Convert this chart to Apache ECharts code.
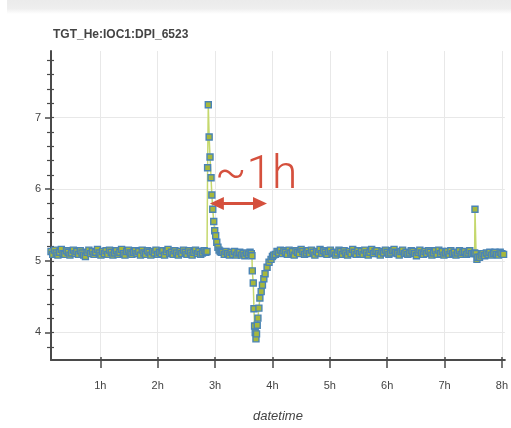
<!DOCTYPE html>
<html><head><meta charset="utf-8">
<script src="https://cdn.jsdelivr.net/npm/echarts@6/dist/echarts.min.js"></script>
<style>html,body{margin:0;padding:0;background:#fff}#c{width:511px;height:428px}</style>
</head><body><div id="c"></div>
<script>
const chartTitle = 'TGT_He:IOC1:DPI_6523';
const xAxisName = 'datetime';
const xTickHours = [1, 2, 3, 4, 5, 6, 7, 8];
const yMajorTicks = [4, 5, 6, 7];
const yMinorTicks = [3.8, 4.2, 4.4, 4.6, 4.8, 5.2, 5.4, 5.6, 5.8, 6.2, 6.4, 6.6, 6.8, 7.2, 7.4, 7.6, 7.8];
const annotationText = '~1h';

// regularly sampled stretches: start hour + values (one sample every sampleStepHours)
const sampleStepHours = 0.03;
const baseline1Start = 0.14;
const baseline1 = [
  5.13,5.09,5.15,5.11,5.08,5.12,5.16,5.10,5.09,5.14,
  5.12,5.08,5.11,5.15,5.10,5.13,5.09,5.14,5.11,5.08,
  5.06,5.12,5.15,5.10,5.13,5.09,5.12,5.16,5.11,5.08,
  5.13,5.10,5.14,5.09,5.15,5.12,5.08,5.11,5.14,5.09,
  5.12,5.16,5.10,5.08,5.13,5.15,5.11,5.09,5.12,5.14,
  5.10,5.13,5.08,5.15,5.11,5.09,5.14,5.12,5.08,5.13,
  5.11,5.15,5.09,5.12,5.10,5.14,5.08,5.13,5.16,5.10,
  5.12,5.09,5.14,5.11,5.08,5.13,5.10,5.15,5.12,5.09,
  5.14,5.11,5.08,5.12,5.15,5.10,5.13,5.09,5.11,5.14,
  5.12
];
const spikeTimes  = [2.860, 2.870, 2.882, 2.897, 2.912, 2.930, 2.944, 2.960, 2.977, 2.994, 3.011, 3.030, 3.050, 3.070, 3.090, 3.110];
const spikeValues = [5.13, 6.30, 7.18, 6.73, 6.45, 6.16, 5.92, 5.72, 5.55, 5.42, 5.35, 5.26, 5.19, 5.15, 5.13, 5.12];
const baseline2Start = 3.13;
const baseline2 = [5.12,5.09,5.13,5.10,5.08,5.12,5.09,5.13,5.08,5.11,5.12,5.08,5.10,5.07,5.11,5.09,5.12];
const dipTimes  = [3.632, 3.643, 3.649, 3.666, 3.678, 3.689, 3.700, 3.713, 3.723, 3.735, 3.747, 3.764, 3.781, 3.804, 3.826, 3.850, 3.872, 3.907, 3.941, 3.976, 4.000, 4.020];
const dipValues = [5.10, 5.07, 4.86, 4.69, 4.33, 4.09, 4.00, 3.91, 3.98, 4.10, 4.20, 4.34, 4.48, 4.57, 4.66, 4.75, 4.82, 4.91, 4.98, 5.02, 5.06, 5.08];
const baseline3Start = 4.05;
const baseline3 = [
  5.09,5.13,5.11,5.15,5.10,5.14,5.12,5.09,5.15,5.11,
  5.13,5.08,5.14,5.12,5.10,5.16,5.13,5.09,5.11,5.14,
  5.10,5.15,5.12,5.08,5.13,5.11,5.16,5.10,5.14,5.12,
  5.09,5.13,5.15,5.10,5.12,5.08,5.11,5.15,5.13,5.09,
  5.14,5.11,5.08,5.13,5.10,5.16,5.12,5.09,5.14,5.10,
  5.13,5.09,5.15,5.11,5.08,5.12,5.16,5.10,5.13,5.14,
  5.10,5.08,5.13,5.11,5.15,5.12,5.09,5.11,5.14,5.16,
  5.12,5.10,5.08,5.13,5.15,5.10,5.12,5.09,5.11,5.14,
  5.13,5.10,5.07,5.12,5.15,5.11,5.09,5.13,5.10,5.14,
  5.12,5.08,5.11,5.14,5.09,5.15,5.10,5.13,5.08,5.11,
  5.13,5.09,5.14,5.10,5.12,5.08,5.11,5.14,5.09,5.12,
  5.13,5.09,5.11,5.14,5.10
];
const spike2Times  = [7.500, 7.525, 7.531, 7.550, 7.565, 7.580];
const spike2Values = [5.10, 5.11, 5.72, 5.10, 5.02, 5.05];
const baseline4Start = 7.61;
const baseline4 = [5.05,5.08,5.10,5.07,5.11,5.09,5.12,5.08,5.10,5.12,5.09,5.08,5.12,5.10,5.09,5.12];

function sampled(start, vals) {
  return vals.map((v, i) => [Math.round((start + i * sampleStepHours) * 1000) / 1000, v]);
}
function paired(ts, vs) { return ts.map((t, i) => [t, vs[i]]); }

const seriesData = [].concat(
  sampled(baseline1Start, baseline1),
  paired(spikeTimes, spikeValues),
  sampled(baseline2Start, baseline2),
  paired(dipTimes, dipValues),
  sampled(baseline3Start, baseline3),
  paired(spike2Times, spike2Values),
  sampled(baseline4Start, baseline4)
);

const axisColor = '#4a4a4a';
const textColor = '#444';
const gridColor = '#e8e8e8';
const font = 'Liberation Sans, Arial, sans-serif';

const chart = echarts.init(document.getElementById('c'), null, {renderer: 'canvas'});
const xMin = 0.14, xMax = 8.052, yMin = 3.615, yMax = 7.93;

function hiddenAxisBase(extra) {
  return Object.assign({
    type: 'value', gridIndex: 0,
    axisLine: {show: false, onZero: false},
    axisLabel: {show: false},
    splitLine: {show: false}
  }, extra);
}

chart.setOption({
  animation: false,
  backgroundColor: '#fff',
  title: {
    text: chartTitle, left: 53, top: 29, padding: 0,
    textStyle: {fontSize: 12, fontWeight: 'bold', color: textColor, fontFamily: font}
  },
  grid: {left: 51, top: 51, right: 0, bottom: 65, containLabel: false},
  xAxis: [
    {
      type: 'value', min: xMin, max: xMax, minInterval: 1, maxInterval: 1, splitNumber: 8,
      name: xAxisName, nameLocation: 'middle', nameGap: 50,
      nameTextStyle: {fontStyle: 'italic', fontSize: 13, color: textColor, fontFamily: font},
      axisLine: {onZero: false, lineStyle: {color: axisColor, width: 2}},
      axisTick: {customValues: xTickHours, length: 8, lineStyle: {color: axisColor, width: 1.5}},
      axisLabel: {customValues: xTickHours, formatter: v => v + 'h', margin: 20, color: textColor, fontSize: 11, fontFamily: font},
      splitLine: {show: true, lineStyle: {color: gridColor, width: 1}}
    },
    hiddenAxisBase({
      min: xMin, max: xMax, position: 'bottom',
      axisTick: {show: true, inside: true, customValues: xTickHours, length: 3, lineStyle: {color: axisColor, width: 1.5}}
    })
  ],
  yAxis: [
    {
      type: 'value', min: yMin, max: yMax, minInterval: 1, maxInterval: 1, splitNumber: 4,
      axisLine: {show: true, onZero: false, lineStyle: {color: axisColor, width: 2}},
      axisTick: {customValues: yMajorTicks, length: 6, lineStyle: {color: axisColor, width: 1.5}},
      axisLabel: {customValues: yMajorTicks, margin: 10, color: textColor, fontSize: 11, fontFamily: font},
      splitLine: {show: true, lineStyle: {color: gridColor, width: 1}}
    },
    hiddenAxisBase({
      min: yMin, max: yMax, position: 'left',
      axisTick: {show: true, customValues: yMinorTicks, length: 4, lineStyle: {color: axisColor, width: 1.2}}
    }),
    hiddenAxisBase({
      min: yMin, max: yMax, position: 'left',
      axisTick: {show: true, inside: true, customValues: yMajorTicks.concat(yMinorTicks), length: 3, lineStyle: {color: axisColor, width: 1.2}}
    })
  ],
  series: [{
    type: 'line',
    xAxisIndex: 0, yAxisIndex: 0,
    data: seriesData,
    symbol: 'rect', symbolSize: 6, showSymbol: true, showAllSymbol: true,
    clip: true,
    lineStyle: {color: '#c5d86d', width: 1.5},
    itemStyle: {color: '#a6b83c', borderColor: '#4a84b5', borderWidth: 1.4}
  }]
});

// annotation: "~1h" with double arrow
const arrowFromHour = 2.91, arrowToHour = 3.905, arrowLevel = 5.80;
const pa = chart.convertToPixel({xAxisIndex: 0, yAxisIndex: 0}, [arrowFromHour, arrowLevel]);
const pb = chart.convertToPixel({xAxisIndex: 0, yAxisIndex: 0}, [arrowToHour, arrowLevel]);
const red = '#d5503d';
const ay = pa[1], ax1 = pa[0], ax2 = pb[0];
chart.setOption({
  graphic: [
    {
      type: 'rect', left: 7, top: 0, z: 100,
      shape: {width: 504, height: 14},
      style: {fill: new echarts.graphic.LinearGradient(0, 0, 0, 1, [
        {offset: 0, color: '#ebebeb'}, {offset: 0.6, color: '#eeeeee'}, {offset: 1, color: '#ffffff'}
      ])}
    },
    {type: 'line', z: 100, shape: {x1: ax1 + 10, y1: ay, x2: ax2 - 10, y2: ay}, style: {stroke: red, lineWidth: 3}},
    {type: 'polygon', z: 100, shape: {points: [[ax1, ay], [ax1 + 14, ay - 6.5], [ax1 + 14, ay + 6.5]]}, style: {fill: red}},
    {type: 'polygon', z: 100, shape: {points: [[ax2, ay], [ax2 - 14, ay - 6.5], [ax2 - 14, ay + 6.5]]}, style: {fill: red}},
    {type: 'text', z: 100, x: ax1 + 5, y: ay - 27,
     style: {text: annotationText, fill: red, font: '300 46px Roboto, "Open Sans", sans-serif', verticalAlign: 'middle', align: 'left'}}
  ]
});
</script>
</body></html>
